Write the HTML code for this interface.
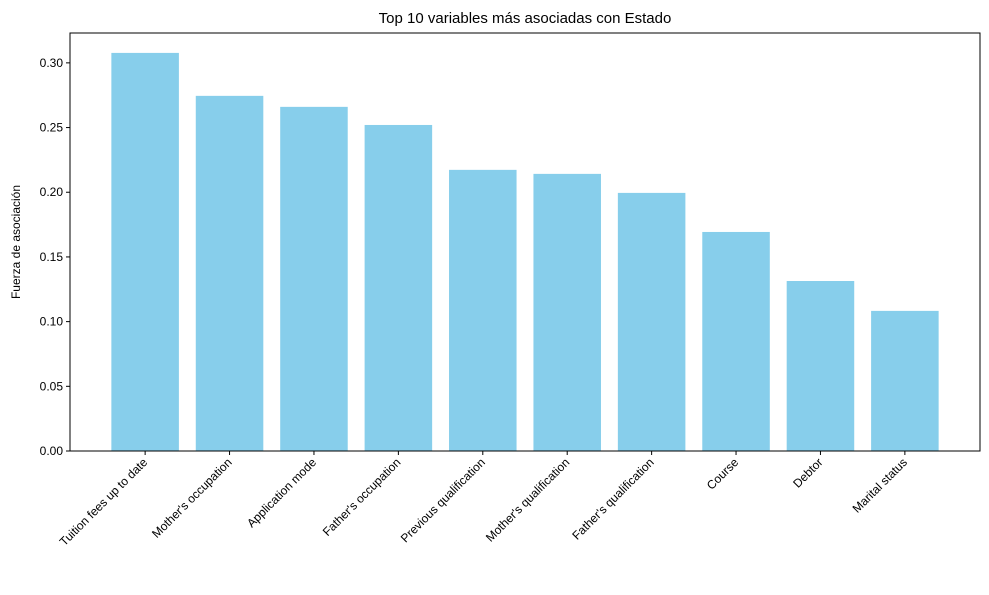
<!DOCTYPE html>
<html><head><meta charset="utf-8"><style>
body{margin:0;background:#fff;}
svg text{font-family:"Liberation Sans","DejaVu Sans",sans-serif;fill:#000;}
</style></head><body>
<svg id="chart" width="989" height="590">
<text x="525" y="23" font-size="15" text-anchor="middle">Top 10 variables más asociadas con Estado</text>
<text transform="translate(20,242) rotate(-90)" font-size="12" text-anchor="middle">Fuerza de asociación</text>
<g id="bars"></g><g id="yticks"></g><g id="xticks"></g>
<rect x="70" y="33" width="910" height="418" fill="none" stroke="#000" stroke-width="1"/>
</svg>
<script>
const categories=["Tuition fees up to date","Mother's occupation","Application mode","Father's occupation","Previous qualification","Mother's qualification","Father's qualification","Course","Debtor","Marital status"];
const values=[0.3077,0.2745,0.266,0.252,0.2173,0.2142,0.1995,0.1693,0.1314,0.1083];
const yTicks=[0,0.05,0.10,0.15,0.20,0.25,0.30];
const yTickLabels=["0.00","0.05","0.10","0.15","0.20","0.25","0.30"];
const L=70,R=980,T=33,B=451;
const n=categories.length;
const xmin=-0.4-0.049*(n-0.2)/0.98*0.98, span=(n-0.2)*1.1;
function x(i){const lo=-0.4-(n-0.2)*0.05;const hi=n-1+0.4+(n-0.2)*0.05;return L+(i-lo)/(hi-lo)*(R-L);}
const ymax=values.reduce((a,b)=>Math.max(a,b),0)*1.05;
function y(v){return B-v/ymax*(B-T);}
const NS="http://www.w3.org/2000/svg";
const bw=(x(1)-x(0))*0.8;
const gb=document.getElementById('bars'),gy=document.getElementById('yticks'),gx=document.getElementById('xticks');
values.forEach((v,i)=>{
 const r=document.createElementNS(NS,'rect');
 r.setAttribute('x',x(i)-bw/2);r.setAttribute('y',y(v));r.setAttribute('width',bw);r.setAttribute('height',B-y(v));r.setAttribute('fill','#87ceeb');
 
 
 gb.appendChild(r);
 const t=document.createElementNS(NS,'line');
 t.setAttribute('x1',x(i));t.setAttribute('x2',x(i));t.setAttribute('y1',B);t.setAttribute('y2',B+4);t.setAttribute('stroke','#000');
 
 
 gx.appendChild(t);
 const tx=document.createElementNS(NS,'text');
 tx.setAttribute('transform','translate('+(x(i)+3)+','+(B+12)+') rotate(-45)');
 tx.setAttribute('text-anchor','end');tx.setAttribute('font-size','12');
 tx.textContent=categories[i];
 
 
 gx.appendChild(tx);
});
yTicks.forEach((v,i)=>{
 const t=document.createElementNS(NS,'line');
 t.setAttribute('x1',L-4);t.setAttribute('x2',L);t.setAttribute('y1',y(v));t.setAttribute('y2',y(v));t.setAttribute('stroke','#000');
 
 
 gy.appendChild(t);
 const tx=document.createElementNS(NS,'text');
 tx.setAttribute('x',L-7);tx.setAttribute('y',y(v)+4);tx.setAttribute('text-anchor','end');tx.setAttribute('font-size','12');
 tx.textContent=yTickLabels[i];
 
 
 gy.appendChild(tx);
});
</script>
</body></html>
